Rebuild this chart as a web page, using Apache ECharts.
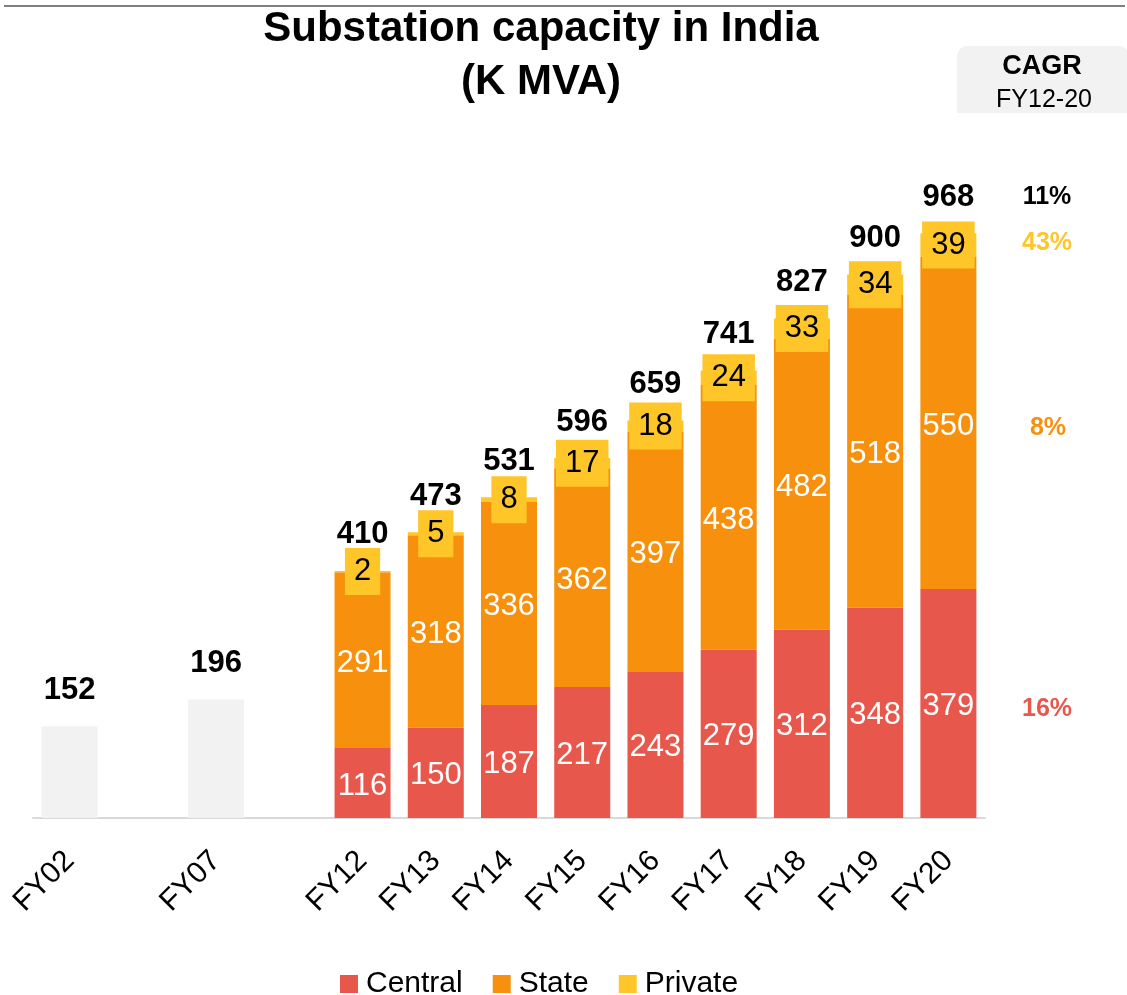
<!DOCTYPE html>
<html>
<head>
<meta charset="utf-8">
<script src="https://cdn.jsdelivr.net/npm/echarts@6/dist/echarts.min.js"></script>
<style>
  html, body { margin: 0; padding: 0; background: #fff; }
  #root { width: 1127px; height: 995px; }
</style>
</head>
<body>
<div id="root"></div>
<script>
// category slots (blank slots keep the gaps between FY02, FY07 and FY12)
const categories = ['FY02', '', 'FY07', '', 'FY12', 'FY13', 'FY14', 'FY15', 'FY16', 'FY17', 'FY18', 'FY19', 'FY20']
const earlyTotal = [152, null, 196, null, null, null, null, null, null, null, null, null, null]
const central = [null, null, null, null, 116, 150, 187, 217, 243, 279, 312, 348, 379]
const state = [null, null, null, null, 291, 318, 336, 362, 397, 438, 482, 518, 550]
const privateCap = [null, null, null, null, 2, 5, 8, 17, 18, 24, 33, 34, 39]
const totals = [152, null, 196, null, 410, 473, 531, 596, 659, 741, 827, 900, 968]
// CAGR FY12-20: total, private, state, central
const cagr = ['11%', '43%', '8%', '16%']

const FONT = '"Liberation Sans", Arial, sans-serif'
const RED = '#E8574C', ORANGE = '#F7910D', YELLOW = '#FFC629', GREY = '#F2F2F2'

const chart = echarts.init(document.getElementById('root'))

const option = {
  animation: false,
  textStyle: { fontFamily: FONT },
  grid: { left: 33, right: 142, top: 214, bottom: 177 },
  legend: {
    data: ['Central', 'State', 'Private'],
    left: 335,
    top: 964,
    itemWidth: 18,
    itemHeight: 18,
    itemGap: 30,
    icon: 'rect',
    textStyle: { fontSize: 30, color: '#000', fontFamily: FONT, padding: [0, 0, 0, 3] }
  },
  xAxis: {
    type: 'category',
    data: categories,
    axisLine: { lineStyle: { color: '#D9D9D9', width: 2 } },
    axisTick: { show: false },
    axisLabel: { interval: 0, rotate: 45, fontSize: 30, color: '#000', margin: 38, fontFamily: FONT }
  },
  yAxis: {
    type: 'value',
    min: 0,
    max: 1000,
    show: false,
    splitLine: { show: false }
  },
  series: [
    {
      name: 'Early',
      type: 'bar',
      stack: 'a',
      barWidth: 56,
      data: earlyTotal,
      itemStyle: { color: GREY }
    },
    {
      name: 'Central',
      type: 'bar',
      stack: 'a',
      barWidth: 56,
      data: central,
      itemStyle: { color: RED },
      label: { show: true, position: 'inside', offset: [0, 3], color: '#fff', fontSize: 31, fontFamily: FONT }
    },
    {
      name: 'State',
      type: 'bar',
      stack: 'a',
      barWidth: 56,
      data: state,
      itemStyle: { color: ORANGE },
      label: { show: true, position: 'inside', offset: [0, 3], color: '#fff', fontSize: 31, fontFamily: FONT }
    },
    {
      name: 'Private',
      type: 'bar',
      stack: 'a',
      barWidth: 56,
      data: privateCap,
      itemStyle: { color: YELLOW },
      label: {
        show: true,
        position: 'inside',
        color: '#000',
        fontSize: 31,
        fontFamily: FONT,
        backgroundColor: YELLOW,
        padding: [8, 9, 8, 9]
      }
    },
    {
      // invisible points carrying the bold total labels
      name: 'Total',
      type: 'scatter',
      data: totals,
      symbolSize: 1,
      itemStyle: { color: 'rgba(255,255,255,0)', opacity: 1 },
      z: 5,
      label: {
        show: true,
        position: 'top',
        distance: 20,
        color: '#000000',
        opacity: 1,
        fontSize: 31,
        lineHeight: 31,
        fontWeight: 'bold',
        fontFamily: FONT
      }
    }
  ],
  graphic: [
    { type: 'line', shape: { x1: 4, y1: 6, x2: 1125, y2: 6 }, style: { stroke: '#7F7F7F', lineWidth: 2 } },
    { type: 'text', style: { text: 'Substation capacity in India', x: 541, y: 29, font: 'bold 42px ' + FONT, fill: '#000', textAlign: 'center', textVerticalAlign: 'middle' } },
    { type: 'text', style: { text: '(K MVA)', x: 541, y: 82, font: 'bold 42px ' + FONT, fill: '#000', textAlign: 'center', textVerticalAlign: 'middle' } },
    { type: 'rect', shape: { x: 957, y: 46, width: 172, height: 67, r: [10, 10, 0, 0] }, style: { fill: GREY } },
    { type: 'text', style: { text: 'CAGR', x: 1042, y: 67, font: 'bold 27px ' + FONT, fill: '#000', textAlign: 'center', textVerticalAlign: 'middle' } },
    { type: 'text', style: { text: 'FY12-20', x: 1044, y: 100, font: '25px ' + FONT, fill: '#000', textAlign: 'center', textVerticalAlign: 'middle' } },
    { type: 'text', style: { text: cagr[0], x: 1047, y: 197, font: 'bold 25px ' + FONT, fill: '#000', textAlign: 'center', textVerticalAlign: 'middle' } },
    { type: 'text', style: { text: cagr[1], x: 1047, y: 243, font: 'bold 25px ' + FONT, fill: YELLOW, textAlign: 'center', textVerticalAlign: 'middle' } },
    { type: 'text', style: { text: cagr[2], x: 1048, y: 428, font: 'bold 25px ' + FONT, fill: ORANGE, textAlign: 'center', textVerticalAlign: 'middle' } },
    { type: 'text', style: { text: cagr[3], x: 1047, y: 709, font: 'bold 25px ' + FONT, fill: RED, textAlign: 'center', textVerticalAlign: 'middle' } }
  ]
}

chart.setOption(option)
</script>
</body>
</html>
